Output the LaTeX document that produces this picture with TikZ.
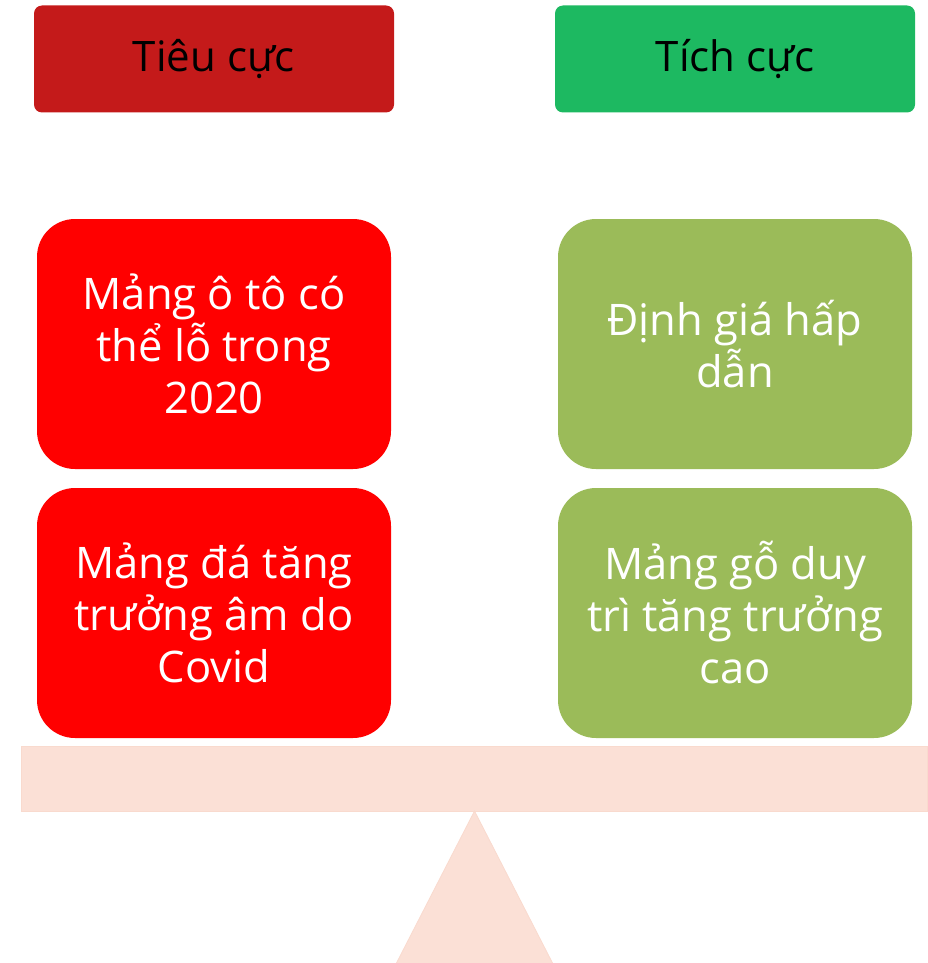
\documentclass[tikz,border=0pt]{standalone}
\usepackage{fontspec}
\setmainfont{Open Sans}
\definecolor{hdred}{RGB}{196,26,26}
\definecolor{hdgreen}{RGB}{29,185,97}
\definecolor{boxred}{RGB}{255,0,0}
\definecolor{boxgreen}{RGB}{155,187,89}
\definecolor{beamfill}{RGB}{251,224,214}
\definecolor{beamline}{RGB}{249,218,206}
\begin{document}
\begin{tikzpicture}[x=1pt,y=-1pt,
  header/.style={rectangle, rounded corners=8pt, minimum width=360pt, minimum height=107pt,
    inner sep=0pt, text=black, font=\fontsize{42}{50}\selectfont},
  itembox/.style={rectangle, rounded corners=38pt, minimum width=354pt, minimum height=250pt,
    inner sep=0pt, text=white, align=center, font=\fontsize{43.5}{52}\selectfont},
  beamstyle/.style={rectangle, fill=beamfill, draw=beamline, line width=0.8pt,
    minimum width=906pt, minimum height=65pt, inner sep=0pt}]
\useasboundingbox (0,0) rectangle (928,963);
\node[header, fill=hdred] (h1) at (214,59) {Tiêu cực};
\node[header, fill=hdgreen] (h2) at (735,59) {Tích cực};
\node[itembox, fill=boxred] (r1) at (214,344) {Mảng ô tô có\\thể lỗ trong\\2020};
\node[itembox, fill=boxred] (r2) at (214,613) {Mảng đá tăng\\trưởng âm do\\Covid};
\node[itembox, fill=boxgreen] (g1) at (735,344) {Định giá hấp\\dẫn};
\node[itembox, fill=boxgreen] (g2) at (735,613) {Mảng gỗ duy\\trì tăng trưởng\\cao};
\node[beamstyle] (beam) at (474.5,778.5) {};
\coordinate (apex) at (474.5,811);
\coordinate (bl) at (396.5,963);
\coordinate (br) at (552.5,963);
\fill[beamfill] (apex) -- (br) -- (bl) -- cycle;
\draw[beamline, line width=0.8pt] (bl) -- (apex) -- (br);
\end{tikzpicture}
\end{document}
